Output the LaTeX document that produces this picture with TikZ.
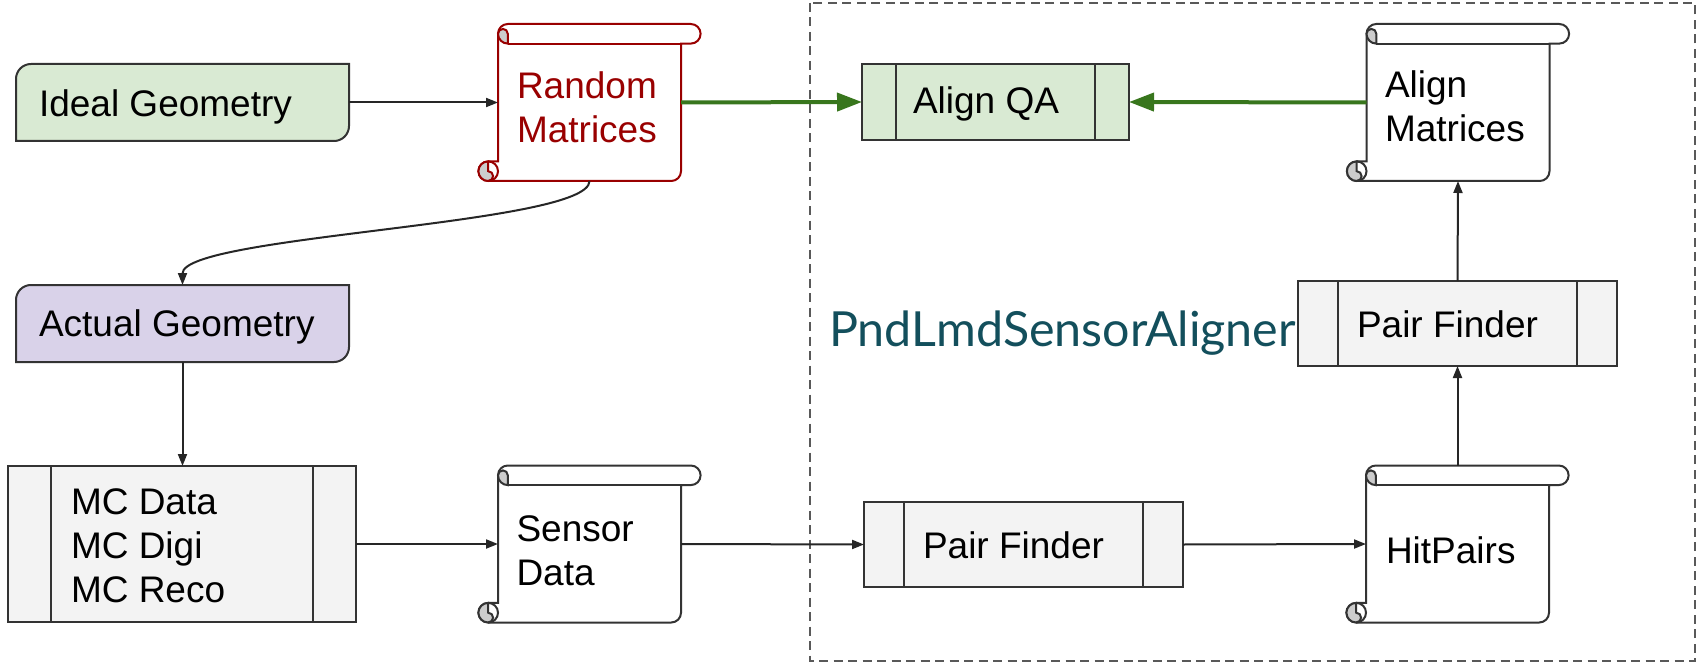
\documentclass[tikz,border=0pt]{standalone}
\usepackage{fontspec}
\setmainfont{Liberation Sans}
\newfontfamily\latofont{Lato}
\usetikzlibrary{arrows.meta,calc}

\definecolor{ink}{HTML}{333333}
\definecolor{flowink}{HTML}{262626}
\definecolor{geogreen}{HTML}{D9EAD3}
\definecolor{geopurple}{HTML}{D9D2E9}
\definecolor{procgray}{HTML}{F3F3F3}
\definecolor{randred}{HTML}{990000}
\definecolor{flowgreen}{HTML}{38761D}
\definecolor{alignerteal}{HTML}{134F5C}
\definecolor{curlgray}{HTML}{CCCCCC}
\definecolor{framegray}{HTML}{595959}

% scroll geometry: curl radius, sheet width, sheet height
\def\sr{9.8}
\def\sW{183}
\def\sH{157}

% left-aligned lines whose reference point is the first baseline
\newcommand\firstbase[1]{\vtop{\halign{##\hfil\cr#1\crcr}}}

\tikzset{
  plain/.style={inner sep=0pt, outer sep=0pt},
  geobox/.style={plain, rectangle, minimum width=333pt, minimum height=77pt},
  procbox/.style={plain, rectangle, draw=ink, line width=2pt, fill=procgray},
  scrollbox/.style={plain, rectangle, minimum width=\sW pt, minimum height=\sH pt},
  txt/.style={plain, anchor=base west, font=\fontsize{37}{44}\selectfont},
  flow/.style={draw=flowink, line width=2pt, -{Triangle[length=12pt,width=9pt]}},
  qaflow/.style={draw=flowgreen, line width=4pt, -{Triangle[length=25pt,width=18pt]}},
}

% box with rounded top-left and bottom-right corners
\newcommand\geoframe[2]{%
  \draw[ink, line width=2pt, fill=#2]
    ($(#1.north west)+(0,15)$) .. controls ($(#1.north west)+(0,6.7)$) and ($(#1.north west)+(6.7,0)$) .. ($(#1.north west)+(15,0)$)
    -- (#1.north east) -- ($(#1.south east)+(0,-15)$)
    .. controls ($(#1.south east)+(0,-6.7)$) and ($(#1.south east)+(-6.7,0)$) .. ($(#1.south east)+(-15,0)$)
    -- (#1.south west) -- cycle;}

% the two inner bars of a process box
\newcommand\procbars[2]{%
  \draw[ink, line width=2pt]
    ($(#1.north west)+(#2,0)$) -- ($(#1.south west)+(#2,0)$)
    ($(#1.north east)+(-#2,0)$) -- ($(#1.south east)+(-#2,0)$);}

% vertical scroll drawn round a scroll node
\newcommand\scrollframe[2]{%
  \begin{scope}[shift={(#1.north west)}, line width=2pt, draw=#2]
    \filldraw[fill=white]
      (0,\sH-2*\sr) -- (0,\sr) arc[start angle=180, end angle=270, radius=\sr]
      -- (\sW+\sr,0) arc[start angle=270, end angle=450, radius=\sr]
      -- (\sW,2*\sr) -- (\sW,\sH-\sr) arc[start angle=0, end angle=90, radius=\sr]
      -- (-\sr,\sH) arc[start angle=90, end angle=270, radius=\sr] -- cycle;
    \draw (\sr,2*\sr) -- (\sW,2*\sr);
    \filldraw[fill=curlgray]
      (\sr,2*\sr) arc[start angle=90, end angle=180, radius=\sr]
      arc[start angle=180, end angle=360, radius=\sr/2] -- cycle;
    \filldraw[fill=curlgray]
      (-\sr,\sH-\sr) arc[start angle=270, end angle=450, radius=\sr/2]
      arc[start angle=90, end angle=270, radius=\sr] -- cycle;
    \draw (-\sr,\sH-2*\sr) arc[start angle=270, end angle=450, radius=\sr];
  \end{scope}}

\begin{document}
\begin{tikzpicture}[x=1pt, y=-1pt]
  \useasboundingbox (0,0) rectangle (1704,663);

  % aligner frame
  \draw[framegray, line width=1.5pt, dash pattern=on 9pt off 5.5pt] (810,3) rectangle (1695,661);
  \node[plain, anchor=base west, text=alignerteal, font=\latofont\fontsize{48.4}{58}\selectfont]
    (aligner) at (829,346.7) {PndLmdSensorAligner};

  % geometries
  \node[geobox] (ideal) at (182.5,102.5) {};
  \geoframe{ideal}{geogreen}
  \node[txt] (idealtxt) at (39,117) {Ideal Geometry};

  \node[geobox] (actual) at (182.5,323.5) {};
  \geoframe{actual}{geopurple}
  \node[txt] (actualtxt) at (39,336) {Actual Geometry};

  % process boxes
  \node[procbox, minimum width=348pt, minimum height=156pt] (mc) at (182,544) {};
  \procbars{mc}{43}
  \node[txt] (mctxt) at (71,514) {\firstbase{MC Data\cr MC Digi\cr MC Reco}};

  \node[procbox, fill=geogreen, minimum width=267pt, minimum height=76pt] (qa) at (995.5,102) {};
  \procbars{qa}{34}
  \node[txt] (qatxt) at (913,114) {Align QA};

  \node[procbox, minimum width=319pt, minimum height=85pt] (pfb) at (1023.5,544.5) {};
  \procbars{pfb}{40}
  \node[txt] (pfbtxt) at (923,558) {Pair Finder};

  \node[procbox, minimum width=319pt, minimum height=85pt] (pft) at (1457.5,323.5) {};
  \procbars{pft}{40}
  \node[txt] (pfttxt) at (1357,337) {Pair Finder};

  % scrolls
  \node[scrollbox] (random) at (589.5,102.5) {};
  \scrollframe{random}{randred}
  \node[txt, text=randred] (randomtxt) at (517,99) {\firstbase{Random\cr Matrices}};

  \node[scrollbox] (alignmat) at (1458,102.5) {};
  \scrollframe{alignmat}{ink}
  \node[txt] (alignmattxt) at (1385,98) {\firstbase{Align\cr Matrices}};

  \node[scrollbox] (sensor) at (589.5,544) {};
  \scrollframe{sensor}{ink}
  \node[txt] (sensortxt) at (516.5,541) {\firstbase{Sensor\cr Data}};

  \node[scrollbox] (hits) at (1457.5,544) {};
  \scrollframe{hits}{ink}
  \node[txt] (hitstxt) at (1386,563) {HitPairs};

  % connectors
  \draw[flow] (ideal.east) -- (random.west);
  \draw[flow] (random.south) .. controls +(0,44) and +(0,-50) .. (actual.north);
  \draw[flow] (actual.south) -- (actual.south |- mc.north);
  \draw[flow] (mc.east) -- (sensor.west);
  \draw[flow] (sensor.east) -- (pfb.west);
  \draw[flow] (pfb.east) -- (hits.west);
  \draw[flow] (hits.north) -- (pft.south);
  \draw[flow] (pft.north) -- (alignmat.south);
  \draw[qaflow] (random.east) -- (qa.west);
  \draw[qaflow] (alignmat.west) -- (qa.east);
\end{tikzpicture}
\end{document}
